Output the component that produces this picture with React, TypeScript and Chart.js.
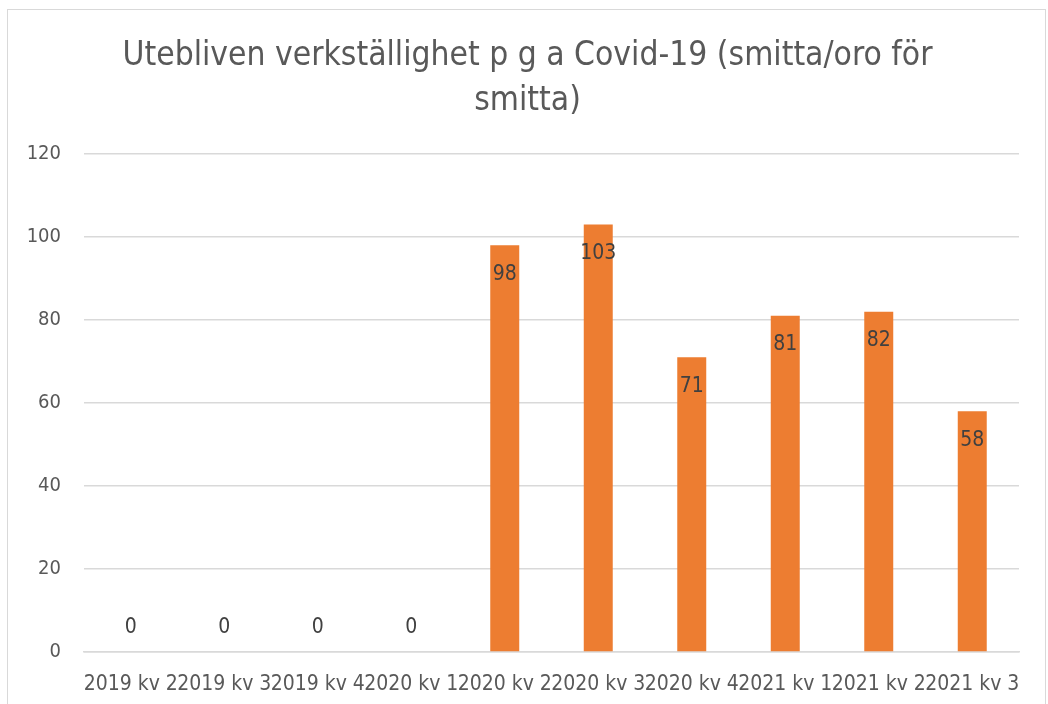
import React, { useEffect, useRef } from "react";
import { Chart, registerables } from "chart.js";

Chart.register(...registerables);

const titleLines = ["Utebliven verkställighet p g a Covid-19 (smitta/oro för", "smitta)"];
const categories = [
  "2019 kv 2",
  "2019 kv 3",
  "2019 kv 4",
  "2020 kv 1",
  "2020 kv 2",
  "2020 kv 3",
  "2020 kv 4",
  "2021 kv 1",
  "2021 kv 2",
  "2021 kv 3",
];
const values = [0, 0, 0, 0, 98, 103, 71, 81, 82, 58];
const yMin = 0;
const yMax = 120;
const yStep = 20;

const FONT = "'Liberation Sans Narrow', 'DejaVu Sans Condensed', 'Open Sans', sans-serif";

const titlePlugin = {
  id: "customTitle",
  afterDraw(chart: any) {
    const ctx = chart.ctx;
    ctx.save();
    ctx.font = `33.3px ${FONT}`;
    ctx.fillStyle = "#595959";
    ctx.textAlign = "center";
    ctx.textBaseline = "alphabetic";
    titleLines.forEach((line, i) => {
      ctx.fillText(line, 527.5, 65 + i * 45);
    });
    ctx.restore();
  },
};

const valueLabels = {
  id: "valueLabels",
  afterDatasetsDraw(chart: any) {
    const ctx = chart.ctx;
    const meta = chart.getDatasetMeta(0);
    ctx.save();
    ctx.font = `21px ${FONT}`;
    ctx.fillStyle = "#404040";
    ctx.textAlign = "center";
    ctx.textBaseline = "middle";
    meta.data.forEach((bar: any, i: number) => {
      const v = values[i];
      const y = v > 0 ? bar.y + 29 : bar.base - 24;
      ctx.fillText(String(v), bar.x, y);
    });
    ctx.restore();
  },
};

export default function App() {
  const ref = useRef<HTMLCanvasElement>(null);
  useEffect(() => {
    document.body.style.margin = "0";
    const chart = new Chart(ref.current!, {
      type: "bar",
      data: {
        labels: categories,
        datasets: [
          {
            data: values,
            backgroundColor: "#ED7D31",
            barPercentage: 0.62,
            categoryPercentage: 0.5,
          },
        ],
      },
      options: {
        animation: false,
        responsive: false,
        layout: { padding: { left: 0, right: 29, top: 154, bottom: 0 } },
        plugins: {
          legend: { display: false },
          tooltip: { enabled: false },
          title: { display: false },
        },
        scales: {
          x: {
            grid: { display: false },
            border: { display: true, color: "#d9d9d9", width: 1.5 },
            ticks: {
              color: "#595959",
              font: { family: FONT, size: 21 },
              autoSkip: false,
              maxRotation: 0,
              minRotation: 0,
              padding: 12,
            },
            afterFit: (scale: any) => {
              scale.height = 52;
            },
          },
          y: {
            min: yMin,
            max: yMax,
            grid: { color: "#d9d9d9", lineWidth: 1.5, drawTicks: false },
            border: { display: false },
            ticks: {
              stepSize: yStep,
              color: "#595959",
              font: { family: FONT, size: 20 },
              padding: 23,
            },
            afterFit: (scale: any) => {
              scale.width = 84;
            },
          },
        },
      },
      plugins: [valueLabels, titlePlugin],
    });
    return () => chart.destroy();
  }, []);
  return (
    <div style={{ position: "relative", width: 1048, height: 704, overflow: "hidden", background: "#fff" }}>
      <canvas ref={ref} width={1048} height={704} style={{ position: "absolute", left: 0, top: 0 }} />
      <div
        style={{
          position: "absolute",
          left: 7,
          top: 9,
          width: 1037,
          height: 800,
          border: "1.5px solid #d9d9d9",
          pointerEvents: "none",
        }}
      />
    </div>
  );
}
